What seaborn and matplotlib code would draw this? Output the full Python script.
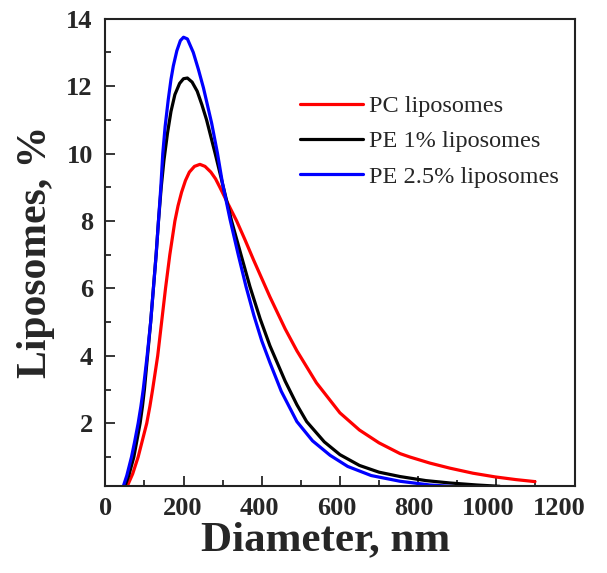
import matplotlib
matplotlib.use("Agg")
import matplotlib.pyplot as plt
import matplotlib.transforms as mtransforms
import seaborn as sns
import pandas as pd
from matplotlib.ticker import MultipleLocator

series_names = ["PC liposomes", "PE 1% liposomes", "PE 2.5% liposomes"]
series_colors = ["#ff0000", "#000000", "#0000ff"]

pc_x = [52, 56, 70, 84, 95, 106, 114, 121, 134, 144, 154, 165, 178, 186, 195, 205,
        215, 228, 242, 255, 270, 282, 293, 310, 336, 357, 379, 400, 421, 460, 490,
        540, 600, 650, 700, 754, 779, 830, 881, 940, 997, 1050, 1099]
pc_y = [0.0, 0.13, 0.5, 1.0, 1.5, 2.0, 2.5, 3.0, 4.0, 5.0, 6.0, 7.0, 8.0, 8.45, 8.85, 9.2,
        9.45, 9.62, 9.68, 9.62, 9.45, 9.25, 9.0, 8.6, 8.0, 7.45, 6.85, 6.3, 5.75, 4.8, 4.15,
        3.2, 2.31, 1.8, 1.42, 1.1, 1.0, 0.82, 0.67, 0.52, 0.41, 0.33, 0.27]

pe1_x = [45, 50, 60, 73, 81, 89, 95, 100, 108, 116, 123, 130, 136, 143, 150, 159,
         168, 178, 190, 200, 210, 222, 235, 247, 259, 281, 302, 323, 347, 370, 396,
         421, 460, 490, 515, 560, 600, 650, 700, 754, 820, 881, 950, 1009]
pe1_y = [0.0, 0.13, 0.45, 1.0, 1.5, 2.0, 2.5, 3.0, 4.0, 5.0, 6.0, 7.0, 8.0, 9.0, 9.8,
         10.6, 11.25, 11.75, 12.08, 12.22, 12.24, 12.12, 11.85, 11.45, 11.0, 10.0, 9.0,
         8.0, 7.0, 6.05, 5.1, 4.3, 3.25, 2.55, 2.05, 1.45, 1.07, 0.75, 0.55, 0.42, 0.3,
         0.23, 0.17, 0.13]

pe25_x = [40, 46, 55, 67, 75, 84, 91, 97, 107, 116, 123, 130, 136, 142, 147, 153,
          161, 168, 174, 183, 192, 200, 210, 225, 238, 251, 262, 272, 287, 300, 310,
          319, 340, 360, 380, 400, 421, 450, 490, 530, 575, 620, 680, 754, 830, 924]
pe25_y = [0.0, 0.13, 0.45, 1.0, 1.45, 2.0, 2.5, 3.0, 4.0, 5.0, 6.0, 7.0, 8.0, 9.0, 10.0,
          10.8, 11.6, 12.2, 12.6, 13.05, 13.35, 13.45, 13.4, 13.0, 12.5, 11.95, 11.4, 10.9,
          10.0, 9.1, 8.55, 8.05, 7.0, 6.05, 5.2, 4.45, 3.8, 2.95, 2.05, 1.48, 1.05, 0.72,
          0.45, 0.28, 0.17, 0.1]

x_ticks = [0, 200, 400, 600, 800, 1000, 1200]
y_ticks = [2, 4, 6, 8, 10, 12, 14]

frames = []
for name, xs, ys in zip(series_names, [pc_x, pe1_x, pe25_x], [pc_y, pe1_y, pe25_y]):
    frames.append(pd.DataFrame({"Diameter": xs, "Value": ys, "Sample": name}))
df = pd.concat(frames, ignore_index=True)

sns.set_style("ticks")
plt.rcParams["font.family"] = ["Liberation Serif", "DejaVu Serif"]

fig = plt.figure(figsize=(6.07, 5.73), dpi=100)
ax = fig.add_axes([105.3 / 607, 1 - 486 / 573, (574.5 - 105.3) / 607, (486 - 18.7) / 573])

sns.lineplot(data=df, x="Diameter", y="Value", hue="Sample", hue_order=series_names,
             palette=dict(zip(series_names, series_colors)), sort=False,
             estimator=None, linewidth=2.3, ax=ax)
for ln in ax.get_lines():
    ln.set_solid_joinstyle("round")

ax.set_xlim(0, 1200)
ax.set_ylim(0.14, 14)
ax.set_xticks(x_ticks)
ax.set_yticks(y_ticks)
ax.xaxis.set_minor_locator(MultipleLocator(100))
ax.yaxis.set_minor_locator(MultipleLocator(1))
ax.tick_params(axis="both", which="major", direction="in", length=7, width=1.3,
               labelsize=19, top=False, right=False)
ax.tick_params(axis="both", which="minor", direction="in", length=4, width=1.3,
               top=False, right=False)
ax.tick_params(axis="y", which="major", pad=9)
ax.tick_params(axis="x", which="major", pad=8)
for lab in ax.get_xticklabels() + ax.get_yticklabels():
    lab.set_fontweight("bold")
for sp in ax.spines.values():
    sp.set_visible(True)
    sp.set_linewidth(1.5)
    sp.set_color("#222222")

ax.set_xlabel("Diameter, nm", fontsize=31, fontweight="bold")
ax.xaxis.set_label_coords((326 - 105.3) / (574.5 - 105.3), -0.075)
ax.xaxis.label.set_verticalalignment("top")
ax.set_ylabel("Liposomes, %", fontsize=30, fontweight="bold", labelpad=8)

leg = ax.legend(loc="upper left", bbox_to_anchor=(300 / 607, 1 - 95 / 573),
                bbox_transform=fig.transFigure, frameon=False, fontsize=17.5,
                handlelength=2.6, handletextpad=0.25, labelspacing=0.55,
                borderpad=0, borderaxespad=0)
for line in leg.get_lines():
    line.set_linewidth(2.3)

# small horizontal shifts of the x tick labels as in the reference
shifts_px = [0, -1, -2, -3, -4, -8, -15]
for tick, dx in zip(ax.xaxis.get_major_ticks(), shifts_px):
    lab = tick.label1
    lab.set_transform(lab.get_transform() +
                      mtransforms.ScaledTranslation(dx / 100, 0, fig.dpi_scale_trans))

fig.savefig("out.png", dpi=100)
